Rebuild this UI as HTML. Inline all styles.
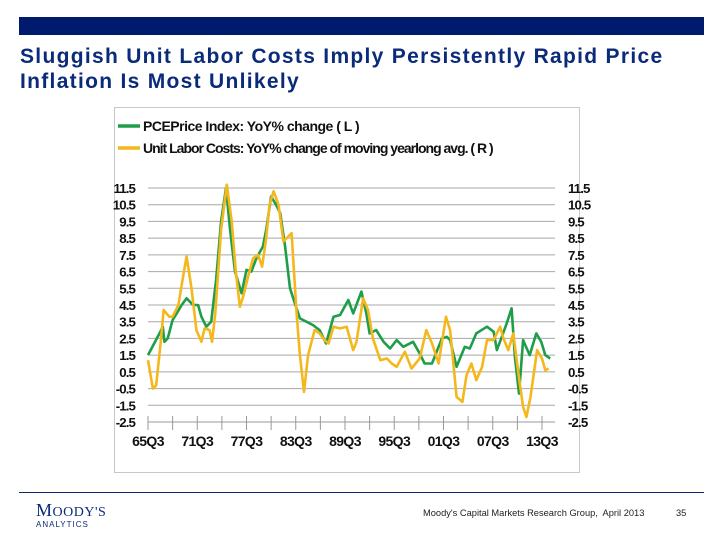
<!DOCTYPE html>
<html><head><meta charset="utf-8">
<style>
body{margin:0;width:720px;height:540px;background:#fff;position:relative;overflow:hidden;font-family:"Liberation Sans",sans-serif}
.bar{position:absolute;left:19px;top:17px;width:685px;height:18px;background:#001a6e}
.title{position:absolute;left:20px;top:44px;font-size:21px;font-weight:bold;color:#0a2a7a;line-height:25px;letter-spacing:1.3px;white-space:nowrap}
.box{position:absolute;left:114px;top:107px;width:466px;height:366px;border:1px solid #c8c8c8;box-sizing:border-box}
.foot-line{position:absolute;left:19px;top:492px;width:685px;height:1px;background:#0a2a6e}
.logo{position:absolute;left:36px;top:500px;font-family:"Liberation Serif",serif;color:#0a2a7a;font-size:18px;letter-spacing:0.5px}
.logo2{position:absolute;left:36px;top:520px;font-size:8px;color:#0a2a7a;letter-spacing:1px}
.src{position:absolute;left:423px;top:508px;font-size:9.3px;color:#222;white-space:nowrap}
.pg{position:absolute;left:676px;top:508px;font-size:9.3px;color:#222}
</style></head><body>
<div class="bar"></div>
<div class="title">Sluggish Unit Labor Costs Imply Persistently Rapid Price<br>Inflation Is Most Unlikely</div>
<div class="box"></div>
<svg id="chart" width="720" height="540" style="position:absolute;left:0;top:0"></svg>
<div class="foot-line"></div>
<div class="logo">M<span style="font-size:14px">OODY'S</span></div>
<div class="logo2">ANALYTICS</div>
<div class="src">Moody's Capital Markets Research Group,&nbsp; April 2013</div>
<div class="pg">35</div>
<script>
const yTicks=[11.5,10.5,9.5,8.5,7.5,6.5,5.5,4.5,3.5,2.5,1.5,0.5,-0.5,-1.5,-2.5];
const xTickYears=[1965.5,1971.5,1977.5,1983.5,1989.5,1995.5,2001.5,2007.5,2013.5];
const xTickLabels=["65Q3","71Q3","77Q3","83Q3","89Q3","95Q3","01Q3","07Q3","13Q3"];
const pceYears=[1965.5,1966.9,1967.3,1967.5,1967.9,1968.5,1969.0,1969.6,1970.2,1971.0,1971.6,1972.0,1972.6,1973.2,1973.8,1974.4,1975.0,1975.5,1976.1,1976.9,1977.5,1978.1,1978.7,1979.5,1979.9,1980.5,1981.1,1981.6,1982.2,1982.8,1983.4,1984.0,1984.8,1985.6,1986.4,1987.2,1988.1,1988.9,1989.9,1990.5,1991.5,1992.1,1992.5,1993.3,1994.2,1995.0,1995.8,1996.6,1997.8,1998.6,1999.2,2000.1,2000.9,2001.3,2001.9,2002.3,2003.1,2004.1,2004.7,2005.5,2006.8,2007.6,2008.0,2008.6,2009.2,2009.8,2010.2,2010.7,2011.2,2012.0,2012.8,2013.4,2013.9,2014.5];
const pceValues=[1.5,2.8,3.2,2.3,2.5,3.6,4.0,4.5,4.9,4.5,4.5,3.8,3.2,3.5,6,9.5,11.5,9,6.5,5.2,6.6,6.5,7.3,8,9,11,10.5,10,8,5.5,4.6,3.7,3.5,3.3,3,2.2,3.8,3.9,4.8,4,5.3,4,2.8,3,2.3,1.9,2.4,2,2.3,1.6,1,1,2,2.5,2.6,2.4,0.8,2,1.9,2.8,3.2,2.9,1.8,2.6,3.4,4.3,1.4,-0.8,2.4,1.5,2.8,2.3,1.5,1.3];
const ulcYears=[1965.5,1966.1,1966.5,1967.1,1967.4,1968.1,1968.5,1969.2,1969.7,1970.2,1970.8,1971.4,1972.0,1972.4,1973.0,1973.3,1973.7,1974.4,1975.1,1975.7,1976.2,1976.7,1977.1,1977.7,1978.3,1978.9,1979.4,1979.9,1980.3,1980.8,1981.4,1982.0,1982.4,1983.0,1983.6,1984.0,1984.5,1985.0,1985.8,1986.4,1987.0,1987.5,1988.1,1988.9,1989.7,1990.5,1990.9,1991.7,1992.3,1992.9,1993.8,1994.6,1995.2,1995.8,1996.8,1997.6,1998.6,1999.4,2000.1,2000.9,2001.8,2002.3,2003.1,2003.8,2004.3,2004.9,2005.5,2006.2,2006.8,2007.6,2008.4,2008.8,2009.4,2010.0,2010.6,2011.2,2011.6,2012.1,2012.9,2013.5,2013.9,2014.3];
const ulcValues=[1.2,-0.5,-0.3,2.5,4.2,3.8,3.8,4.5,6,7.4,5.5,3,2.3,3.1,3,2.3,4,9,11.7,9.5,6.5,4.4,5,6.2,7.3,7.5,6.8,8.5,10.5,11.3,10.5,8.3,8.5,8.8,4,1.5,-0.7,1.5,3,2.8,2.4,2.2,3.2,3.1,3.2,1.8,2.3,4.9,4.2,2.5,1.2,1.3,1.0,0.8,1.7,0.7,1.3,3,2.2,1,3.8,3,-1,-1.3,0.3,1,0,0.8,2.4,2.4,3.2,2.5,1.8,2.8,0.5,-1.6,-2.2,-1,1.8,1.3,0.6,0.7];

const svg=document.getElementById('chart');const NS='http://www.w3.org/2000/svg';
const X0=148,X1=542,Y0=188,Y1=422;
const xs=t=>X0+(t-1965.5)*(X1-X0)/48;
const ys=v=>Y0+(11.5-v)*(Y1-Y0)/14;
function mk(tag,attrs,parent){const e=document.createElementNS(NS,tag);for(const k in attrs)e.setAttribute(k,attrs[k]);(parent||svg).appendChild(e);return e;}
yTicks.forEach(v=>{
  if(v>-2.5){const g=mk('line',{x1:X0,x2:555,y1:ys(v),y2:ys(v),stroke:'#a8a8a8','stroke-width':1});
  
  }
  const l=mk('text',{x:135,y:ys(v)+5,'text-anchor':'end','font-size':13.3,'font-weight':'600','letter-spacing':'-0.9',fill:'#111'});l.textContent=v;
  
  
  const r=mk('text',{x:568,y:ys(v)+5,'text-anchor':'start','font-size':13.3,'font-weight':'600','letter-spacing':'-0.9',fill:'#111'});r.textContent=v;
  
  
});
const ax=mk('line',{x1:X0,x2:555,y1:Y1,y2:Y1,stroke:'#999','stroke-width':1});


for(let t=1965.5;t<=2013.5;t+=3){const k=mk('line',{x1:xs(t),x2:xs(t),y1:Y1-6,y2:Y1+8,stroke:'#999','stroke-width':1});
  
  }
xTickYears.forEach((t,i)=>{const l=mk('text',{x:xs(t),y:446,'text-anchor':'middle','font-size':14,'font-weight':'600','letter-spacing':'-0.6',fill:'#111'});l.textContent=xTickLabels[i];
  
  });
function path(ty,vals,color,name){const d=ty.map((t,i)=>(i?'L':'M')+xs(t).toFixed(1)+','+ys(vals[i]).toFixed(1)).join('');
  const p=mk('path',{d:d,fill:'none',stroke:color,'stroke-width':2.6,'stroke-linejoin':'round'});
  
  }
path(pceYears,pceValues,'#1e9e4a','pce-line');
path(ulcYears,ulcValues,'#f5b81c','ulc-line');
[['#1e9e4a','PCEPrice Index: YoY% change ( L )',126,-0.5],['#f5b81c','Unit Labor Costs: YoY% change of moving yearlong avg. ( R )',148,-1.0]].forEach(([c,t,y,ls])=>{
  const s=mk('line',{x1:118,x2:140,y1:y,y2:y,stroke:c,'stroke-width':3.5});
  
  
  const tx=mk('text',{x:143,y:y+5,'font-size':14,'font-weight':'bold','letter-spacing':ls,fill:'#111'});tx.textContent=t;
  
  
});
</script>
</body></html>
